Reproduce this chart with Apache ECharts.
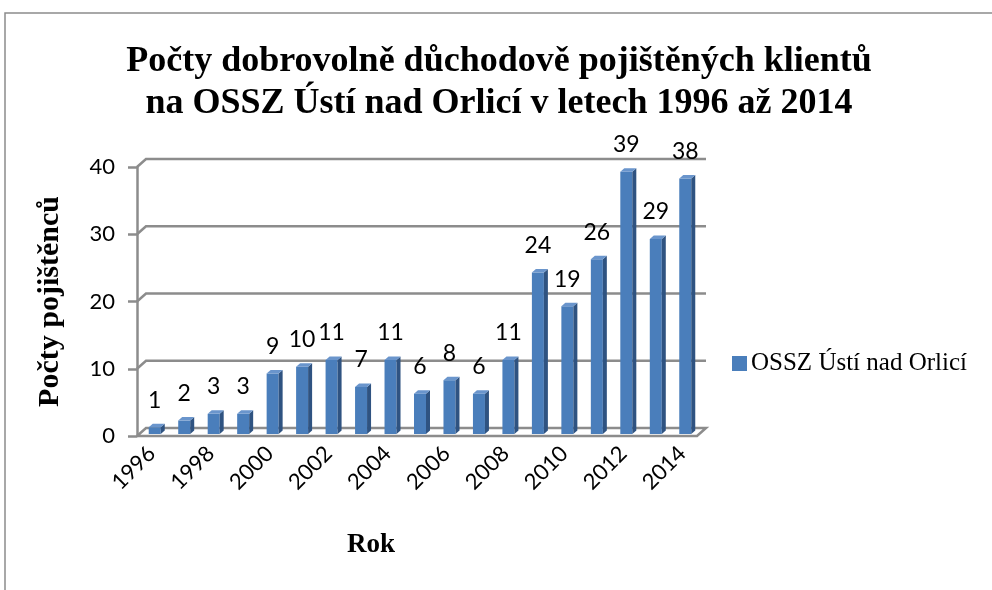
<!DOCTYPE html>
<html>
<head>
<meta charset="utf-8">
<script src="https://cdn.jsdelivr.net/npm/echarts@6/dist/echarts.min.js"></script>
<style>
  html, body { margin: 0; padding: 0; background: #fff; }
  #chart { width: 992px; height: 590px; }
</style>
</head>
<body>
<div id="chart"></div>
<script>
// data
const years = ['1996', '1997', '1998', '1999', '2000', '2001', '2002', '2003', '2004', '2005',
               '2006', '2007', '2008', '2009', '2010', '2011', '2012', '2013', '2014'];
const clients = [1, 2, 3, 3, 9, 10, 11, 7, 11, 6, 8, 6, 11, 24, 19, 26, 39, 29, 38];
const yTicks = [0, 10, 20, 30, 40];
const seriesName = 'OSSZ Ústí nad Orlicí';

const FRONT = '#4A7EBB';
const SIDE = '#2F5381';
const TOP = '#6A95CC';
const GRID = '#8C8C8C';
const DX = 9, DY = 8;   // depth of the pseudo 3D walls

const chart = echarts.init(document.getElementById('chart'));

// wall / floor lines
const renderWall = (params, api) => {
  const cs = params.coordSys;
  const p = api.coord([0, api.value(0)]);
  const x0 = cs.x, w = cs.width, y = p[1];
  let pts;
  if (api.value(0) === 0) {
    pts = [[x0, y], [x0 + DX, y - DY], [x0 + w + DX, y - DY], [x0 + w, y], [x0, y]];
  } else {
    pts = [[x0, y], [x0 + DX, y - DY], [x0 + w + DX, y - DY]];
  }
  return {
    type: 'polyline',
    shape: { points: pts },
    style: { stroke: GRID, lineWidth: 2.5, fill: null }
  };
};

// 3D-ish bars
const renderBar = (params, api) => {
  const i = api.value(0);
  const v = api.value(1);
  const base = api.coord([i, 0]);
  const top = api.coord([i, v]);
  const cx = base[0] + 3;
  const bw = 12, sd = 4, sr = 3.5;
  const yb = base[1] - 2, yt = top[1] - 2;
  const xl = cx - bw / 2, xr = cx + bw / 2;
  return {
    type: 'group',
    children: [
      { type: 'rect', shape: { x: xl, y: yt, width: bw, height: yb - yt }, style: { fill: FRONT } },
      { type: 'polygon', shape: { points: [[xr, yt], [xr + sd, yt - sr], [xr + sd, yb - sr], [xr, yb]] }, style: { fill: SIDE } },
      { type: 'polygon', shape: { points: [[xl, yt], [xl + sd, yt - sr], [xr + sd, yt - sr], [xr, yt]] }, style: { fill: TOP } },
      { type: 'text', x: cx, y: yt - 27, style: { text: String(v), fontFamily: 'Lato', fontSize: 23, fill: '#000', align: 'center', verticalAlign: 'middle' } }
    ]
  };
};

const option = {
  animation: false,
  backgroundColor: '#fff',
  title: [
    {
      text: 'Počty dobrovolně důchodově pojištěných klientů\nna OSSZ Ústí nad Orlicí v letech 1996 až 2014',
      left: 494, top: 36, textAlign: 'center',
      textStyle: { fontFamily: 'Liberation Serif', fontWeight: 'bold', fontSize: 36, lineHeight: 42, color: '#000' }
    },
    {
      text: 'Rok',
      left: 366, top: 527, textAlign: 'center',
      textStyle: { fontFamily: 'Liberation Serif', fontWeight: 'bold', fontSize: 27, color: '#000' }
    }
  ],
  legend: {
    left: 727, top: 346,
    data: [{ name: seriesName, icon: 'rect' }],
    itemWidth: 15, itemHeight: 15, itemGap: 4,
    textStyle: { fontFamily: 'Liberation Serif', fontSize: 25, color: '#000', padding: [0, 0, 0, -1] }
  },
  grid: { left: 137, right: 295, top: 167, bottom: 154 },
  xAxis: {
    type: 'category',
    data: years,
    axisLine: { show: false },
    axisTick: { show: false },
    axisLabel: { interval: 1, rotate: 45, margin: 14, fontFamily: 'Lato', fontSize: 22, color: '#000' }
  },
  yAxis: {
    type: 'value',
    min: 0, max: 40, interval: 10,
    name: 'Počty pojištěnců',
    nameLocation: 'middle',
    nameGap: 72,
    nameTextStyle: { fontFamily: 'Liberation Serif', fontWeight: 'bold', fontSize: 30, color: '#000' },
    axisLine: { show: true, lineStyle: { color: GRID, width: 2.5 } },
    axisTick: { show: true, length: 9, lineStyle: { color: GRID, width: 2.5 } },
    axisLabel: { margin: 22, fontFamily: 'Lato', fontSize: 22, color: '#000' },
    splitLine: { show: false }
  },
  graphic: [
    { type: 'rect', shape: { x: 5, y: 13, width: 1100, height: 700 }, style: { fill: null, stroke: '#8C8C8C', lineWidth: 1.5 }, z: -10 }
  ],
  series: [
    {
      type: 'custom',
      name: 'walls',
      data: yTicks.map(t => [t]),
      renderItem: renderWall,
      clip: false,
      silent: true,
      z: 1
    },
    {
      type: 'custom',
      name: seriesName,
      data: clients.map((v, i) => [i, v]),
      encode: { x: 0, y: 1 },
      itemStyle: { color: FRONT },
      renderItem: renderBar,
      clip: false,
      z: 5
    }
  ]
};

chart.setOption(option);
</script>
</body>
</html>
